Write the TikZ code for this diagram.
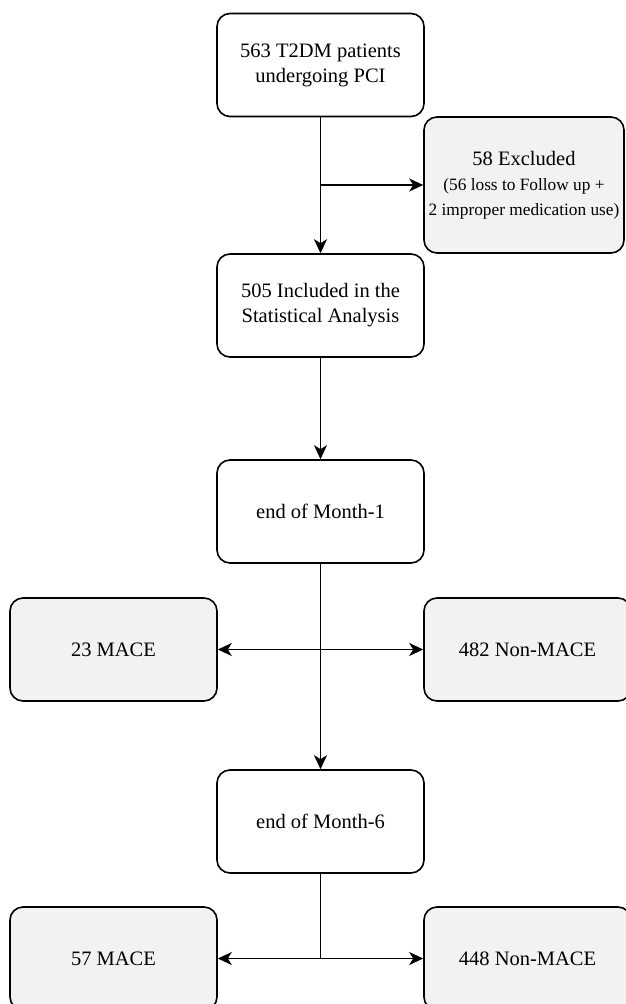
\documentclass[tikz,border=0pt]{standalone}
\usepackage{fontspec}
\setmainfont{Liberation Serif}
\usetikzlibrary{arrows.meta}
\definecolor{sidegray}{HTML}{F2F2F2}
\begin{document}
\begin{tikzpicture}[x=1pt,y=-1pt,
  box/.style={draw, line width=1.6pt, rounded corners=13pt, minimum width=207pt, minimum height=103pt,
    align=center, inner sep=0pt, font=\fontsize{20.5}{25}\selectfont},
  side/.style={box, fill=sidegray},
  line/.style={line width=1.7pt},
  tip/.style={},
  arr/.style={line, -{Stealth[length=14pt,width=13pt,inset=4pt]}},
  darr/.style={line, {Stealth[length=14pt,width=13pt,inset=4pt]}-{Stealth[length=14pt,width=13pt,inset=4pt]}}
]
\useasboundingbox (0,0) rectangle (625,1004);
\node[box] (top) at (320.5,65) {563 T2DM patients\\undergoing PCI};
\node[side, minimum width=200pt, minimum height=136pt] (exc) at (524,185)
  {58 Excluded\\{\fontsize{17.3}{27}\selectfont (56 loss to Follow up +}\\{\fontsize{17.3}{27}\selectfont 2 improper medication use)}};
\node[box] (inc) at (320.5,305.5) {505 Included in the\\Statistical Analysis};
\node[box] (m1) at (320.5,511.5) {end of Month-1};
\node[side] (mace1) at (113.5,649.5) {23 MACE};
\node[side] (non1) at (527.5,649.5) {482 Non-MACE};
\node[box] (m6) at (320.5,821.5) {end of Month-6};
\node[side] (mace2) at (113.5,958.5) {57 MACE};
\node[side] (non2) at (527.5,958.5) {448 Non-MACE};

\draw[arr] (top.south) -- (inc.north);
\draw[arr] (top.south |- exc.west) -- (exc.west);
\draw[arr] (inc.south) -- (m1.north);
\draw[arr] (m1.south) -- (m6.north);
\draw[darr] (mace1.east) -- (non1.west);
\coordinate (j) at (m6.south |- mace2.east);
\draw[line] (m6.south) -- (j);
\draw[darr] (mace2.east) -- (non2.west);
\end{tikzpicture}
\end{document}
